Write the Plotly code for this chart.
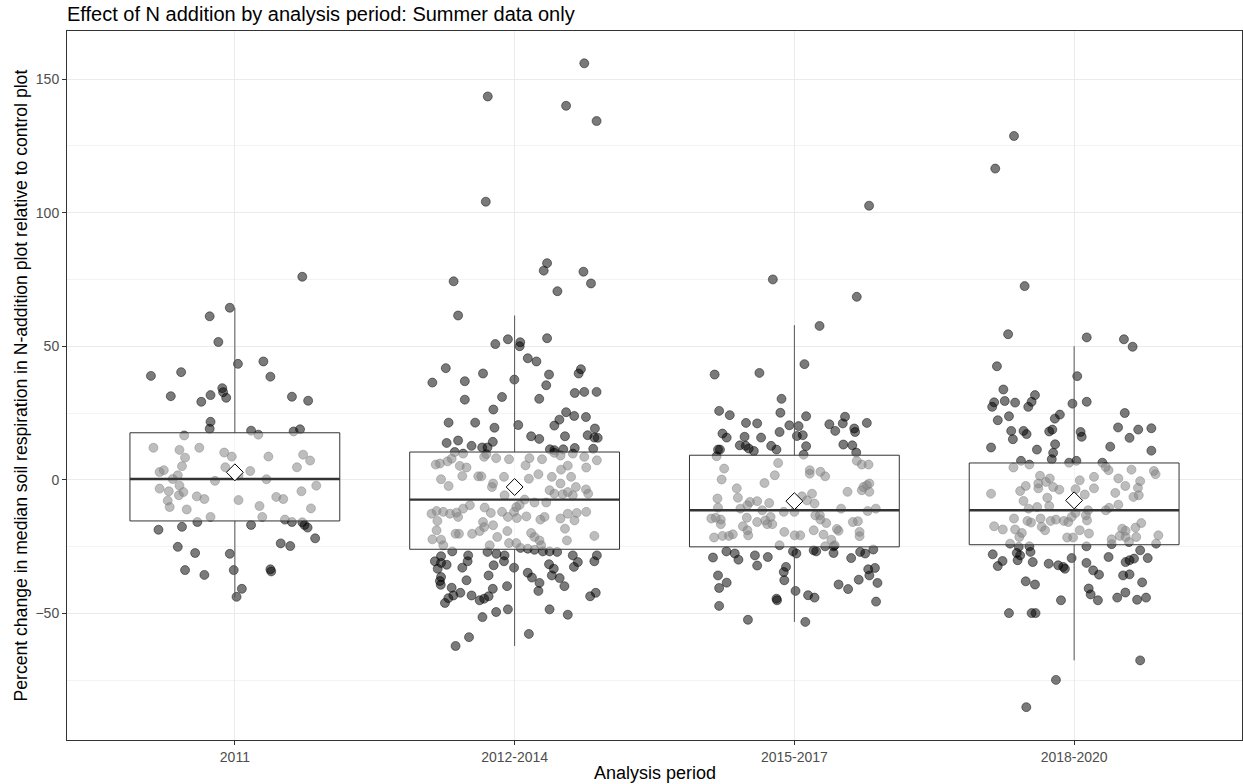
import plotly.graph_objects as go

# ---------------- data ----------------
periods = ["2011", "2012-2014", "2015-2017", "2018-2020"]

# (percent change, horizontal jitter in category units)
pts_2011 = [
    (76.0, 0.241), (64.4, -0.018), (61.2, -0.090), (51.6, -0.059), (43.4, 0.011), (44.3, 0.102),
    (38.9, -0.300), (40.3, -0.192), (38.6, 0.127), (31.3, -0.229), (29.2, -0.120), (31.7, -0.087),
    (34.3, -0.045), (32.8, -0.042), (30.7, -0.031), (31.1, 0.204), (29.6, 0.262), (21.7, -0.087),
    (19.1, -0.090), (18.4, 0.058), (18.1, 0.210), (18.9, 0.233),
    (16.6, -0.181), (16.9, 0.084), (12.0, -0.291), (11.2, -0.198), (12.0, -0.127), (8.3, -0.178),
    (10.2, -0.038), (8.7, -0.011), (8.7, 0.120), (9.4, 0.244), (7.2, 0.269), (5.1, -0.189),
    (2.9, -0.269), (3.6, -0.254), (1.7, -0.204), (0.3, -0.222), (4.7, -0.034), (3.3, 0.055),
    (4.7, 0.222), (1.6, 0.013), (-0.4, -0.071), (0.2, 0.113), (-3.3, -0.269), (-4.3, -0.236),
    (-2.2, -0.198), (-4.6, -0.184), (-5.8, -0.200), (-2.2, 0.291), (-4.3, 0.238), (-6.2, -0.136),
    (-7.2, -0.109), (-7.8, -0.240), (-10.2, -0.233), (-11.1, -0.172), (-7.6, 0.013), (-6.4, 0.148),
    (-7.2, 0.173), (-9.8, 0.088), (-10.7, 0.272), (-13.9, -0.087), (-13.9, 0.098), (-14.9, 0.179),
    (-15.8, -0.134), (-15.8, 0.204), (-15.9, 0.241), (-16.9, 0.249), (-17.9, 0.260), (-18.7, -0.273),
    (-17.6, -0.189), (-16.9, 0.058), (-21.9, 0.287), (-25.1, -0.204), (-27.4, -0.142), (-27.7, -0.018),
    (-23.8, 0.164), (-24.8, 0.198), (-33.8, -0.178), (-35.6, -0.109), (-33.8, -0.004), (-33.5, 0.127),
    (-34.3, 0.130), (-40.8, 0.025), (-43.8, 0.006),
]

pts_2012_2014 = [
    (155.9, 0.249), (143.5, -0.096), (140.0, 0.184), (134.3, 0.293), (104.1, -0.103), (81.1, 0.116),
    (78.3, 0.104), (77.9, 0.246), (74.3, -0.218), (73.5, 0.273), (70.6, 0.153), (61.5, -0.202),
    (52.6, -0.024), (50.8, -0.069), (51.5, 0.020), (50.0, 0.018), (53.0, 0.116), (45.5, 0.047),
    (44.3, 0.078), (41.8, -0.246), (36.4, -0.294), (36.9, -0.178), (39.8, -0.113), (37.5, -0.001),
    (39.4, 0.123), (35.4, 0.113), (41.4, 0.237), (39.8, 0.229), (32.5, 0.215), (32.9, 0.249),
    (32.9, 0.293), (30.0, -0.178), (31.0, -0.045), (30.3, 0.088), (26.3, -0.076), (25.3, 0.184),
    (23.9, 0.213), (23.5, 0.255), (22.5, 0.160), (20.3, 0.142), (21.4, -0.236), (21.4, -0.141),
    (19.5, -0.072), (20.5, 0.013), (19.2, 0.287), (13.8, -0.243), (14.7, -0.202), (12.7, -0.154),
    (12.1, -0.116), (12.1, -0.097), (14.2, -0.078), (16.3, 0.059), (15.3, 0.088), (16.3, 0.180),
    (16.7, 0.261), (15.8, 0.285), (15.7, 0.297), (11.4, 0.126), (11.1, 0.142), (11.4, 0.174),
    (11.9, 0.215), (11.6, 0.281),
    (10.4, -0.214), (9.8, -0.184), (5.7, -0.282), (6.1, -0.267), (6.9, -0.240), (7.9, -0.225),
    (5.2, -0.196), (4.6, -0.172), (8.6, -0.109), (9.6, -0.101), (8.1, -0.066), (7.7, -0.020),
    (5.4, 0.039), (8.1, 0.053), (7.7, 0.098), (10.1, 0.142), (9.1, 0.164), (5.3, 0.190),
    (9.8, 0.208), (8.6, 0.249), (7.3, 0.294), (4.6, 0.256), (3.8, 0.166),
    (0.2, -0.263), (-2.3, -0.236), (1.4, -0.187), (1.3, -0.130), (1.3, -0.119), (-1.4, -0.077),
    (-2.7, -0.081), (1.1, -0.038), (-5.8, -0.036), (0.4, 0.051), (2.1, 0.085), (1.1, 0.133),
    (1.1, 0.202), (-1.4, 0.164), (-3.9, 0.125), (-5.2, 0.142), (-5.4, 0.172), (-4.6, 0.190),
    (-2.7, 0.219), (-3.6, 0.255), (-5.2, 0.263), (-5.8, 0.208), (-7.4, 0.036), (-8.5, 0.071),
    (-8.5, 0.113),
    (-12.7, -0.297), (-11.7, -0.279), (-12.0, -0.255), (-12.7, -0.231), (-12.3, -0.208), (-10.8, -0.184),
    (-9.5, -0.160), (-13.9, -0.202), (-15.4, -0.276), (-10.4, -0.107), (-12.4, -0.085), (-12.0, -0.045),
    (-13.9, -0.024), (-12.0, -0.002), (-10.2, 0.006), (-9.4, 0.018), (-14.3, 0.008), (-15.8, -0.113),
    (-17.7, -0.109), (-17.0, -0.077), (-19.2, -0.125), (-19.2, -0.026), (-13.7, 0.042), (-14.9, 0.092),
    (-13.9, 0.107), (-14.5, 0.164), (-12.7, 0.190), (-15.2, 0.214), (-12.4, 0.222), (-12.0, 0.256),
    (-18.3, 0.180),
    (-18.9, -0.279), (-20.2, -0.211), (-20.2, -0.199), (-20.2, -0.152), (-22.3, -0.294), (-22.4, -0.263),
    (-24.5, -0.255), (-21.4, -0.062), (-23.7, -0.020), (-23.7, 0.006), (-19.9, 0.059), (-21.4, 0.071),
    (-22.7, 0.089), (-24.5, 0.095), (-22.7, 0.187), (-21.0, 0.285), (-24.5, -0.089), (-25.5, 0.021),
    (-25.8, 0.047), (-26.2, 0.071),
    (-26.8, -0.223), (-28.6, -0.263), (-28.3, -0.166), (-27.0, -0.097), (-27.7, -0.065), (-28.3, -0.036),
    (-26.8, 0.101), (-26.8, 0.125), (-27.0, 0.152), (-28.3, 0.208), (-28.3, 0.294),
    (-30.5, -0.285), (-31.1, -0.263), (-31.8, -0.243), (-33.3, -0.275), (-36.4, -0.263), (-37.9, -0.267),
    (-39.3, -0.264), (-32.9, -0.187), (-30.5, -0.168), (-32.0, -0.075), (-30.5, -0.038), (-32.9, -0.002),
    (-35.8, -0.093), (-37.6, -0.172), (-40.4, -0.225), (-42.3, -0.194), (-43.3, -0.219), (-44.3, -0.237),
    (-46.1, -0.249), (-43.3, -0.154), (-45.1, -0.125), (-44.5, -0.109), (-43.6, -0.093), (-40.8, -0.078),
    (-39.8, -0.027), (-34.8, 0.047), (-36.6, 0.062), (-38.6, 0.089), (-41.6, 0.085), (-31.6, 0.123),
    (-33.3, 0.140), (-35.8, 0.133), (-36.8, 0.161), (-39.8, 0.178), (-32.6, 0.212), (-30.8, 0.226),
    (-30.5, 0.285), (-43.6, 0.270), (-42.3, 0.290), (-51.4, -0.115), (-49.5, -0.066), (-48.5, -0.024),
    (-48.5, 0.125), (-50.5, 0.190), (-57.7, 0.051), (-58.9, -0.163), (-62.2, -0.211),
]

pts_2015_2017 = [
    (102.6, 0.267), (75.0, -0.077), (68.5, 0.223), (57.6, 0.090), (43.3, 0.036), (39.4, -0.285),
    (40.0, -0.125), (30.3, -0.046), (25.8, -0.269), (24.2, -0.231), (25.1, -0.050), (23.8, 0.042),
    (23.6, 0.181),
    (21.3, -0.173), (21.1, -0.133), (20.4, -0.018), (20.1, 0.015), (20.8, 0.125), (21.1, 0.173),
    (21.3, 0.259), (19.2, 0.214), (17.9, 0.217), (17.9, -0.053), (16.4, 0.009), (16.7, 0.030),
    (18.3, 0.146), (17.3, -0.257), (15.8, -0.242), (16.1, -0.178), (15.8, -0.119), (12.9, -0.195),
    (12.7, -0.174), (11.7, -0.163), (10.8, -0.145), (12.7, -0.083), (11.3, -0.064), (11.3, -0.273),
    (11.3, -0.266), (12.6, 0.042), (13.2, 0.175), (12.9, 0.207), (10.2, 0.221), (9.4, 0.033),
    (8.8, -0.278), (6.3, -0.058), (4.2, -0.251), (0.1, -0.260), (1.7, -0.070), (-1.2, -0.107),
    (-3.2, -0.206), (-6.7, -0.202), (-7.0, -0.275), (-10.4, -0.273), (3.6, 0.055), (2.3, 0.055),
    (3.0, 0.093), (1.3, 0.110), (7.1, 0.223), (5.7, 0.241), (5.7, 0.265), (-4.5, 0.190),
    (-3.9, 0.241), (-2.0, 0.259), (-1.4, 0.268), (-2.7, 0.247), (-4.5, 0.268), (-5.2, 0.063),
    (-6.2, 0.027), (-8.0, -0.133), (-8.3, -0.159), (-9.5, -0.168), (-10.8, -0.193), (-8.7, -0.090),
    (-7.7, 0.045), (-8.9, 0.072), (-11.4, -0.115), (-12.0, -0.038), (-12.0, 0.000), (-10.8, 0.167),
    (-11.7, 0.262), (-10.8, 0.291), (-14.5, -0.297), (-14.2, -0.281), (-14.9, -0.263), (-16.6, -0.263),
    (-14.2, -0.170), (-15.8, -0.133), (-15.2, -0.104), (-13.9, -0.085), (-16.6, -0.079), (-16.6, -0.097),
    (-13.3, 0.075), (-14.9, 0.093), (-16.2, 0.114), (-13.3, 0.091), (-15.8, 0.209), (-15.5, 0.227),
    (-19.1, 0.158), (-18.4, 0.152), (-17.4, -0.184), (-18.9, -0.168), (-20.8, -0.165), (-21.6, -0.287),
    (-21.0, -0.257), (-21.0, -0.234), (-20.4, -0.220), (-19.5, -0.036), (-20.8, 0.001), (-20.8, 0.021),
    (-18.9, 0.069), (-20.5, 0.104), (-22.4, 0.132), (-19.5, 0.233), (-21.1, 0.233), (-24.5, -0.053),
    (-24.9, 0.110), (-24.5, 0.144),
    (-26.8, -0.243), (-27.6, -0.213), (-29.9, -0.200), (-29.1, -0.291), (-28.3, -0.141), (-28.9, -0.095),
    (-32.1, -0.133), (-26.8, -0.005), (-27.6, 0.007), (-26.4, 0.069), (-26.8, 0.078), (-27.4, 0.140),
    (-24.9, 0.140), (-27.0, 0.235), (-27.6, 0.253), (-26.1, 0.282), (-29.3, 0.203), (-32.6, -0.030),
    (-34.5, -0.038), (-35.8, -0.273), (-38.5, -0.242), (-40.5, -0.269), (-37.6, -0.036), (-39.2, 0.158),
    (-40.9, 0.192), (-37.4, 0.230), (-33.5, 0.264), (-35.8, 0.268), (-33.0, 0.288), (-38.6, 0.297),
    (-41.6, 0.004), (-44.5, -0.064), (-45.1, -0.062), (-43.2, 0.049), (-44.1, 0.072), (-47.2, -0.269),
    (-45.6, 0.292), (-52.4, -0.166), (-53.2, 0.039),
]

pts_2018_2020 = [
    (128.7, -0.215), (116.5, -0.282), (72.5, -0.177), (54.5, -0.236), (53.3, 0.045), (52.6, 0.178),
    (49.8, 0.209), (42.5, -0.276), (38.8, 0.011), (33.8, -0.253), (29.0, -0.286), (27.3, -0.293),
    (29.5, -0.248), (28.9, -0.211), (31.7, -0.140), (29.2, -0.152), (27.3, -0.164), (28.5, -0.006),
    (29.2, 0.045), (25.0, 0.181), (24.4, -0.051), (22.9, -0.069), (23.8, -0.233), (22.3, -0.273),
    (18.3, -0.225), (15.2, -0.219), (18.3, -0.181), (17.1, -0.170), (18.1, -0.089), (18.8, -0.078),
    (17.9, 0.023), (16.1, 0.027), (19.6, 0.157), (15.7, 0.198), (18.8, 0.229), (19.3, 0.276),
    (12.1, -0.297), (11.3, -0.133), (13.3, -0.068), (10.1, -0.075), (7.7, -0.080), (7.1, -0.190),
    (6.4, -0.018), (7.1, 0.008), (12.4, 0.129), (10.9, 0.276), (6.4, 0.101),
    (4.6, -0.217), (5.7, -0.160), (1.5, -0.122), (-0.8, -0.101), (0.5, -0.087), (-1.4, -0.128),
    (-3.2, -0.128), (-2.3, -0.173), (-4.2, -0.193), (-5.2, -0.297), (-2.7, -0.075), (-3.7, -0.053),
    (-6.7, -0.096), (-7.9, -0.181), (-10.8, -0.163), (-10.2, -0.132), (-9.8, -0.089), (-0.2, 0.020),
    (-3.5, 0.005), (-5.5, 0.038), (1.1, 0.071), (-3.2, 0.071), (4.8, 0.113), (3.6, 0.123),
    (0.5, 0.158), (-2.3, 0.183), (3.8, 0.205), (-0.5, 0.236), (-3.0, 0.228), (-5.8, 0.231),
    (-6.4, 0.212), (3.3, 0.285), (2.1, 0.291), (-4.9, 0.147), (-9.3, 0.158), (-10.5, 0.125),
    (-11.4, 0.113), (-11.4, 0.050), (-13.3, 0.042), (-15.2, 0.046), (-12.4, 0.005), (-13.9, -0.009),
    (-15.8, -0.021), (-15.4, -0.037), (-14.9, -0.065), (-15.4, -0.084), (-14.5, -0.120), (-15.4, -0.167),
    (-16.0, -0.154), (-14.5, -0.215), (-17.6, -0.116), (-18.9, -0.104), (-17.4, -0.286), (-18.6, -0.255),
    (-18.6, -0.211), (-19.9, -0.187), (-21.4, -0.196), (-18.9, 0.020), (-20.1, 0.053), (-21.6, -0.025),
    (-21.6, -0.004), (-18.3, 0.172), (-19.1, 0.184), (-17.9, 0.219), (-16.2, 0.240), (-21.0, 0.163),
    (-21.4, 0.184), (-21.4, 0.222), (-22.3, 0.134), (-23.3, 0.196), (-20.8, 0.301), (-23.9, -0.229),
    (-24.1, 0.134),
    (-25.1, -0.198), (-24.9, -0.160), (-23.9, 0.293), (-24.9, 0.044), (-27.9, -0.291), (-27.4, -0.205),
    (-28.3, -0.193), (-27.0, -0.156), (-30.1, -0.202), (-30.4, -0.256), (-32.3, -0.273), (-30.8, -0.148),
    (-31.4, -0.091), (-32.0, -0.057), (-32.6, -0.039), (-33.3, -0.033), (-29.3, -0.009), (-31.1, 0.044),
    (-33.9, 0.068), (-35.5, 0.089), (-28.9, 0.123), (-30.8, 0.184), (-30.1, 0.198), (-29.5, 0.214),
    (-26.4, 0.236), (-29.3, 0.263), (-35.8, 0.175), (-35.4, 0.198), (-38.4, 0.243), (-38.0, -0.173),
    (-39.2, -0.140), (-40.7, 0.052), (-42.9, 0.059), (-45.1, 0.085), (-44.1, 0.154), (-42.2, 0.183),
    (-44.9, 0.225), (-44.1, 0.257), (-45.1, -0.047), (-49.9, -0.233), (-49.9, -0.152), (-49.9, -0.138),
    (-67.6, 0.236), (-74.9, -0.065), (-85.1, -0.171),
]

# box-plot summaries
q1 = [-15.4, -26.0, -25.1, -24.3]
median = [0.3, -7.4, -11.4, -11.4]
q3 = [17.6, 10.4, 9.2, 6.3]
lower_whisker = [-44.0, -62.2, -53.2, -67.6]
upper_whisker = [64.4, 61.5, 57.9, 50.0]
means = [2.8, -2.7, -8.0, -7.7]

groups = [pts_2011, pts_2012_2014, pts_2015_2017, pts_2018_2020]

title_text = "Effect of N addition by analysis period: Summer data only"
x_title = "Analysis period"
y_title = "Percent change in median soil respiration in N-addition plot relative to control plot"

# ---------------- figure ----------------
FONT = "Liberation Sans, Arial, sans-serif"
BOX_HALF = 0.375
fig = go.Figure()

# jittered points
xs, ys = [], []
for i, pts in enumerate(groups, start=1):
    for v, j in pts:
        xs.append(i + j)
        ys.append(v)
fig.add_trace(go.Scatter(
    x=xs, y=ys, mode="markers", hoverinfo="skip",
    marker=dict(size=9, color="rgba(0,0,0,0.52)",
                line=dict(width=1, color="rgba(0,0,0,0.45)")),
))

# boxes drawn on top (semi-transparent white fill)
for i in range(len(periods)):
    c = i + 1
    fig.add_trace(go.Scatter(
        x=[c, c, None, c, c],
        y=[q3[i], upper_whisker[i], None, q1[i], lower_whisker[i]],
        mode="lines", line=dict(color="#555555", width=1), hoverinfo="skip",
    ))
    fig.add_trace(go.Scatter(
        x=[c - BOX_HALF, c + BOX_HALF, c + BOX_HALF, c - BOX_HALF, c - BOX_HALF],
        y=[q1[i], q1[i], q3[i], q3[i], q1[i]],
        mode="lines", fill="toself", fillcolor="rgba(255,255,255,0.5)",
        line=dict(color="#333333", width=1), hoverinfo="skip",
    ))
    fig.add_trace(go.Scatter(
        x=[c - BOX_HALF, c + BOX_HALF], y=[median[i], median[i]],
        mode="lines", line=dict(color="#333333", width=2.3), hoverinfo="skip",
    ))

# means
fig.add_trace(go.Scatter(
    x=[i + 1 for i in range(len(periods))], y=means, mode="markers", hoverinfo="skip",
    marker=dict(symbol="diamond", size=13, color="white",
                line=dict(color="black", width=1)),
))

fig.update_layout(
    width=1243, height=784,
    margin=dict(l=67, r=1, t=31, b=44),
    paper_bgcolor="white", plot_bgcolor="white",
    showlegend=False,
    font=dict(family=FONT, color="#4d4d4d"),
    title=dict(text=title_text, x=67 / 1243, xanchor="left", xref="container",
               y=1 - 14 / 784, yanchor="middle", yref="container",
               font=dict(size=20, color="black", family=FONT)),
    xaxis=dict(
        range=[0.4, 4.6], tickmode="array", tickvals=[1, 2, 3, 4], ticktext=periods,
        showgrid=True, gridcolor="#ebebeb", gridwidth=1, zeroline=False,
        showline=True, mirror=True, linecolor="#333333", linewidth=1,
        ticks="outside", ticklen=4, tickcolor="#333333",
        tickfont=dict(size=14, color="#4d4d4d", family=FONT),
    ),
    yaxis=dict(
        range=[-97.4, 168.0], tickmode="array", tickvals=[-50, 0, 50, 100, 150],
        showgrid=True, gridcolor="#ebebeb", gridwidth=1, zeroline=False,
        minor=dict(tickmode="array", tickvals=[-75, -25, 25, 75, 125], showgrid=True,
                   gridcolor="#f3f3f3", gridwidth=1, ticks=""),
        showline=True, mirror=True, linecolor="#333333", linewidth=1,
        ticks="outside", ticklen=4, tickcolor="#333333",
        tickfont=dict(size=14, color="#4d4d4d", family=FONT),
    ),
    annotations=[
        dict(text=x_title, xref="paper", yref="paper", x=0.5, y=-33 / 709,
             xanchor="center", yanchor="middle", showarrow=False,
             font=dict(size=18, color="black", family=FONT)),
        dict(text=y_title, xref="paper", yref="paper", x=-47 / 1175, y=0.5,
             xanchor="center", yanchor="middle", textangle=-90, showarrow=False,
             font=dict(size=17.6, color="black", family=FONT)),
    ],
)

fig.write_html("out.html")
